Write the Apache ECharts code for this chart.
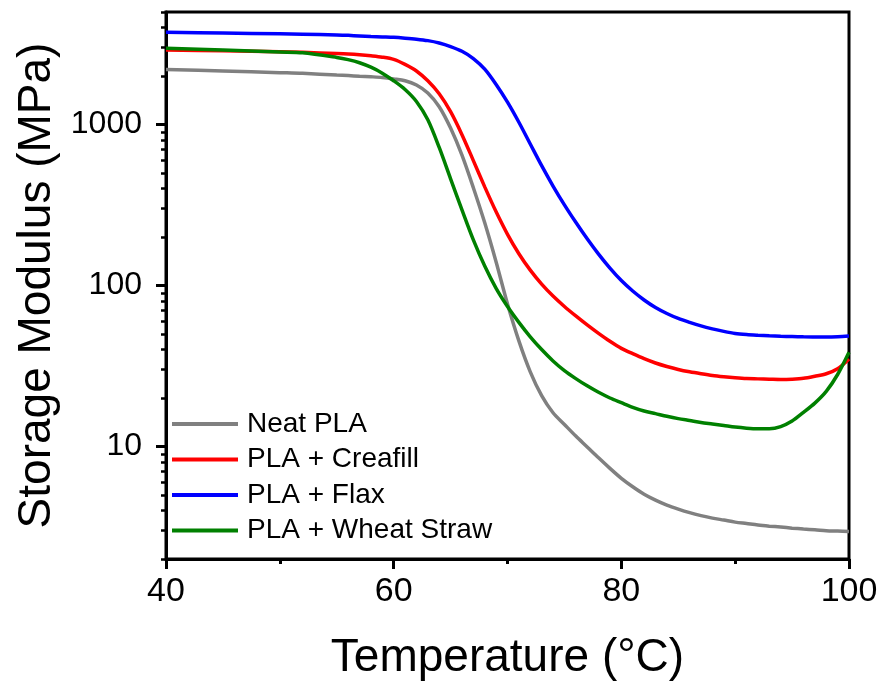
<!DOCTYPE html>
<html>
<head>
<meta charset="utf-8">
<script src="https://cdn.jsdelivr.net/npm/echarts@6/dist/echarts.min.js"></script>
<style>html,body{margin:0;padding:0;background:#fff;}#c{width:885px;height:686px;}</style>
</head>
<body>
<div id="c"></div>
<script>
const temps = [40,45,50,52,55,56,57,58,59,60,61,62,63,64,65,66,67,68,69,70,71,72,73,74,75,76,77,78,79,80,81,82,83,84,85,86,87,88,89,90,91,92,93,94,95,96,97,98,99,100];
const neatPLA = [2200,2150,2100,2080,2030,2015,1995,1980,1960,1920,1870,1760,1570,1290,950,645,405,245,140,76.8,45.3,29.1,20.7,16.2,13.7,11.6,9.94,8.5,7.31,6.34,5.62,5.05,4.64,4.32,4.08,3.88,3.72,3.59,3.49,3.39,3.32,3.25,3.2,3.16,3.11,3.07,3.04,3.0,2.98,2.96];
const creafill = [2900,2870,2830,2810,2760,2740,2710,2670,2620,2537,2362,2150,1868,1552,1201,865,597,410,287,208,157.6,124.6,102,86,74.1,64.7,56.9,50.4,45,40.7,37.7,35.1,33,31.4,30.1,29.1,28.3,27.6,27.1,26.7,26.4,26.3,26.2,26.1,26.2,26.5,27.3,28.3,30.4,35];
const flax = [3740,3700,3660,3640,3600,3580,3550,3520,3500,3480,3440,3390,3320,3210,3050,2850,2570,2208,1774,1377,1033,757,555,415,317,247,195,156.6,128.2,107.3,92.4,81.3,73,67,62.4,59,56.1,53.8,51.9,50.4,49.6,49.1,48.7,48.4,48.2,48.0,47.9,47.9,48.1,48.6];
const wheatStraw = [2980,2900,2820,2790,2610,2530,2420,2270,2085,1870,1650,1390,1070,720,460,295,192,132,96,74,59,48,40,34,29.6,26.4,23.8,21.7,20,18.7,17.5,16.6,16,15.4,14.9,14.5,14.1,13.8,13.5,13.2,13.0,12.9,12.9,13.3,14.4,16.3,18.6,22,28,38.5];
const seriesNames = ['Neat PLA','PLA + Creafill','PLA + Flax','PLA + Wheat Straw'];
const seriesColors = ['#808080','#ff0000','#0000ff','#008000'];
const yMajorTicks = [10,100,1000];
const yMinorTicks = [2,3,4,5,6,7,8,9,20,30,40,50,60,70,80,90,200,300,400,500,600,700,800,900,2000,3000,4000,5000];

const FONT = 'Liberation Sans, Arial, sans-serif';
const allData = [neatPLA, creafill, flax, wheatStraw];
const chart = echarts.init(document.getElementById('c'), null, {renderer:'canvas'});
chart.setOption({
  animation:false,
  backgroundColor:'#fff',
  grid:{left:166,right:36,top:12,bottom:125,show:true,borderColor:'#000',borderWidth:3,backgroundColor:'transparent'},
  legend:{
    orient:'vertical', left:172, top:410, padding:0, itemWidth:66, itemHeight:4, itemGap:7.5,
    icon:'rect',
    textStyle:{fontSize:28,fontFamily:FONT,color:'#000',lineHeight:28,padding:[0,0,0,4]},
    data:seriesNames.map((n,i)=>({name:n, itemStyle:{color:seriesColors[i]}}))
  },
  xAxis:{
    type:'value', min:40, max:100, interval:20,
    axisLine:{show:true,lineStyle:{color:'#000',width:3}},
    axisTick:{show:true,length:10,lineStyle:{color:'#000',width:3}},
    minorTick:{show:true,splitNumber:2,length:5,lineStyle:{color:'#000',width:3}},
    splitLine:{show:false},
    axisLabel:{fontSize:34,fontFamily:FONT,color:'#000',margin:16},
    name:'Temperature (°C)', nameLocation:'middle', nameGap:76,
    nameTextStyle:{fontSize:46,fontFamily:FONT,color:'#000'}
  },
  yAxis:[{
    type:'log', logBase:10, min:2, max:5000,
    axisLine:{show:true,lineStyle:{color:'#000',width:3}},
    axisTick:{show:true,length:10,customValues:yMajorTicks,lineStyle:{color:'#000',width:3}},
    splitLine:{show:false},
    axisLabel:{fontSize:32,fontFamily:FONT,color:'#000',margin:24,customValues:yMajorTicks,formatter:v=>String(v)},
    name:'Storage Modulus (MPa)', nameLocation:'middle', nameGap:98,
    nameTextStyle:{fontSize:46,fontFamily:FONT,color:'#000'}
  },{
    type:'log', logBase:10, min:2, max:5000, position:'left', offset:0,
    axisLine:{show:false},
    axisTick:{show:true,length:5,customValues:yMinorTicks,lineStyle:{color:'#000',width:2.5}},
    axisLabel:{show:false},
    splitLine:{show:false}
  }],
  series: seriesNames.map((n,i)=>({
    name:n, type:'line', yAxisIndex:0, symbol:'none', smooth:0.3,
    lineStyle:{color:seriesColors[i],width:3.5},
    itemStyle:{color:seriesColors[i]},
    data: temps.map((t,j)=>[t, allData[i][j]])
  }))
});
</script>
</body>
</html>
